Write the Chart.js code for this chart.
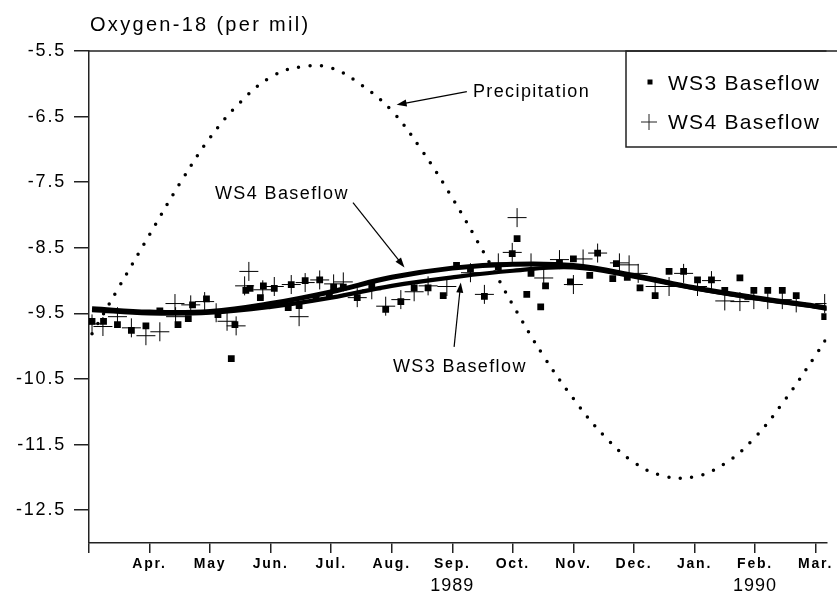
<!DOCTYPE html>
<html>
<head>
<meta charset="utf-8">
<script src="https://cdn.jsdelivr.net/npm/chart.js@4.4.0/dist/chart.umd.min.js"></script>
<style>
html, body { margin: 0; padding: 0; background: #fff; overflow: hidden; }
#wrap { width: 837px; height: 593px; position: relative; }
</style>
</head>
<body>
<div id="wrap"><canvas id="graph"></canvas></div>
<script>
// x values are months since 1 March 1989
const monthTicks = [0, 1, 2, 3, 4, 5, 6, 7, 8, 9, 10, 11, 12];
const monthLabels = ['', 'Apr.', 'May', 'Jun.', 'Jul.', 'Aug.', 'Sep.', 'Oct.', 'Nov.', 'Dec.', 'Jan.', 'Feb.', 'Mar.'];
const yearLabels = [{ month: 6, text: '1989' }, { month: 11, text: '1990' }];
const yTicks = [-12.5, -11.5, -10.5, -9.5, -8.5, -7.5, -6.5, -5.5];

// precipitation (dotted curve)
const precipMonths = [0.05, 0.5, 1, 1.5, 2, 2.5, 3, 3.5, 4, 4.5, 5, 5.5, 6, 6.5, 7, 7.5, 8, 8.5, 9, 9.5, 10, 10.5, 11, 11.5, 12, 12.2];
const precipValues = [-9.81, -9.09, -8.30, -7.52, -6.82, -6.28, -5.90, -5.74, -5.76, -6.02, -6.41, -7.02, -7.74, -8.54, -9.37, -10.14, -10.80, -11.36, -11.77, -11.98, -11.99, -11.79, -11.39, -10.81, -10.14, -9.85];

// fitted baseflow curves
const fitMonths = [0.05, 1, 2, 3, 4, 5, 6, 7, 8, 9, 10, 11, 12, 12.2];
const ws4Fit = [-9.43, -9.48, -9.47, -9.35, -9.17, -8.95, -8.81, -8.75, -8.77, -8.92, -9.11, -9.26, -9.39, -9.42];
const ws3Fit = [-9.45, -9.50, -9.49, -9.40, -9.26, -9.08, -8.95, -8.85, -8.80, -8.94, -9.12, -9.27, -9.40, -9.43];

// WS3 baseflow samples
const ws3Months = [0.05, 0.24, 0.47, 0.70, 0.94, 1.17, 1.47, 1.64, 1.71, 1.94, 2.13, 2.35, 2.41, 2.59, 2.66, 2.83, 2.88, 3.06, 3.29, 3.34, 3.47, 3.57, 3.75, 3.81, 3.97, 4.04, 4.20, 4.43, 4.67, 4.90, 5.15, 5.37, 5.60, 5.85, 6.07, 6.30, 6.53, 6.76, 6.99, 7.07, 7.23, 7.30, 7.46, 7.54, 7.77, 7.95, 8.00, 8.27, 8.40, 8.65, 8.71, 8.89, 9.10, 9.35, 9.58, 9.82, 10.05, 10.28, 10.50, 10.75, 10.98, 11.21, 11.45, 11.68, 12.15];
const ws3Values = [-9.62, -9.62, -9.67, -9.76, -9.69, -9.46, -9.67, -9.58, -9.37, -9.28, -9.52, -10.19, -9.67, -9.15, -9.12, -9.26, -9.08, -9.12, -9.41, -9.06, -9.38, -9.00, -9.26, -8.99, -9.21, -9.10, -9.10, -9.26, -9.06, -9.44, -9.32, -9.11, -9.11, -9.23, -8.77, -8.82, -9.24, -8.79, -8.59, -8.36, -9.21, -8.89, -9.40, -9.08, -8.73, -9.02, -8.67, -8.92, -8.58, -8.97, -8.74, -8.95, -9.11, -9.23, -8.86, -8.86, -8.99, -8.99, -9.15, -8.96, -9.15, -9.15, -9.15, -9.23, -9.55];

// WS4 baseflow samples
const ws4Months = [0.05, 0.23, 0.47, 0.70, 0.94, 1.17, 1.42, 1.43, 1.68, 1.91, 2.10, 2.28, 2.43, 2.57, 2.64, 2.87, 3.06, 3.34, 3.47, 3.57, 3.81, 4.04, 4.20, 4.43, 4.67, 4.90, 5.15, 5.37, 5.60, 5.91, 6.30, 6.53, 6.76, 6.99, 7.07, 7.30, 7.51, 7.77, 8.00, 8.16, 8.40, 8.76, 8.92, 9.07, 9.35, 9.58, 9.82, 10.05, 10.28, 10.50, 10.75, 10.98, 11.21, 11.45, 11.68, 12.15];
const ws4Values = [-9.66, -9.70, -9.55, -9.72, -9.84, -9.78, -9.35, -9.55, -9.37, -9.32, -9.49, -9.62, -9.69, -9.08, -8.86, -9.14, -9.09, -9.06, -9.55, -9.03, -8.99, -9.05, -9.02, -9.26, -9.14, -9.39, -9.29, -9.17, -9.08, -9.09, -8.88, -9.21, -8.73, -8.57, -8.04, -8.73, -8.96, -8.68, -9.06, -8.67, -8.58, -8.73, -8.76, -8.89, -9.09, -9.09, -8.89, -9.09, -9.00, -9.31, -9.32, -9.29, -9.29, -9.29, -9.34, -9.35];

// labels with arrows (x in months, y in per mil)
const notes = [
    { text: 'Precipitation', x: 6.34, y: -6.20, from: [6.24, -6.12], to: [5.08, -6.32] },
    { text: 'WS4 Baseflow', x: 2.08, y: -7.75, from: [4.36, -7.81], to: [5.21, -8.80] },
    { text: 'WS3 Baseflow', x: 5.02, y: -10.39, from: [6.03, -10.01], to: [6.14, -9.03] }
];

const FONT = '"Liberation Sans", Arial, Helvetica, sans-serif';
Chart.defaults.font.family = FONT;
Chart.defaults.color = '#000';

function pairs(xs, ys) {
    return xs.map((v, i) => ({ x: v, y: ys[i] }));
}

function arrow(ctx, x1, y1, x2, y2) {
    const ang = Math.atan2(y2 - y1, x2 - x1);
    const len = 10, half = 3.5;
    ctx.beginPath();
    ctx.moveTo(x1, y1);
    ctx.lineTo(x2 - Math.cos(ang) * len * 0.8, y2 - Math.sin(ang) * len * 0.8);
    ctx.stroke();
    ctx.beginPath();
    ctx.moveTo(x2, y2);
    ctx.lineTo(x2 - Math.cos(ang) * len - Math.sin(ang) * half, y2 - Math.sin(ang) * len + Math.cos(ang) * half);
    ctx.lineTo(x2 - Math.cos(ang) * len + Math.sin(ang) * half, y2 - Math.sin(ang) * len - Math.cos(ang) * half);
    ctx.closePath();
    ctx.fill();
}

const decor = {
    id: 'decor',
    beforeDraw(chart) {
        chart.ctx.letterSpacing = '1.8px';
    },
    afterDraw(chart) {
        const ctx = chart.ctx;
        const xs = chart.scales.x;
        const ys = chart.scales.y;
        const area = chart.chartArea;
        ctx.save();
        ctx.fillStyle = '#000';
        ctx.strokeStyle = '#222';

        // top frame
        ctx.lineWidth = 1.5;
        ctx.beginPath();
        ctx.moveTo(area.left, area.top);
        ctx.lineTo(area.right, area.top);
        ctx.stroke();

        // axis title
        ctx.letterSpacing = '2.3px';
        ctx.font = '20px ' + FONT;
        ctx.textAlign = 'left';
        ctx.textBaseline = 'alphabetic';
        ctx.fillText('Oxygen-18 (per mil)', area.left + 1, 31);

        // years under the month labels
        ctx.letterSpacing = '1px';
        ctx.font = '18px ' + FONT;
        ctx.textAlign = 'center';
        yearLabels.forEach(function (y) {
            ctx.fillText(y.text, xs.getPixelForValue(y.month), 591);
        });

        // notes with arrows
        ctx.textAlign = 'left';
        ctx.letterSpacing = '1.4px';
        ctx.font = '18px ' + FONT;
        ctx.lineWidth = 1.2;
        ctx.strokeStyle = '#000';
        notes.forEach(function (n) {
            ctx.fillText(n.text, xs.getPixelForValue(n.x), ys.getPixelForValue(n.y));
            arrow(ctx, xs.getPixelForValue(n.from[0]), ys.getPixelForValue(n.from[1]),
                xs.getPixelForValue(n.to[0]), ys.getPixelForValue(n.to[1]));
        });

        // legend box
        const lx = 626, lb = 147;
        ctx.lineWidth = 1.5;
        ctx.strokeStyle = '#222';
        ctx.beginPath();
        ctx.moveTo(chart.width + 2, area.top);
        ctx.lineTo(lx, area.top);
        ctx.lineTo(lx, lb);
        ctx.lineTo(chart.width + 2, lb);
        ctx.stroke();
        ctx.fillRect(647.5, 79.5, 5, 5);
        ctx.lineWidth = 1;
        ctx.beginPath();
        ctx.moveTo(641, 122);
        ctx.lineTo(657, 122);
        ctx.moveTo(649, 114);
        ctx.lineTo(649, 130);
        ctx.stroke();
        ctx.letterSpacing = '1.3px';
        ctx.font = '21px ' + FONT;
        ctx.fillText('WS3 Baseflow', 668, 90);
        ctx.fillText('WS4 Baseflow', 668, 129);
        ctx.restore();
    }
};

const ctx = document.getElementById('graph').getContext('2d');

const data = {
    datasets: [
        {
            label: 'WS3 Baseflow',
            data: pairs(ws3Months, ws3Values),
            pointStyle: 'rect',
            pointRadius: 4.8,
            backgroundColor: '#000',
            borderColor: '#000',
            borderWidth: 0
        },
        {
            label: 'WS4 Baseflow',
            data: pairs(ws4Months, ws4Values),
            pointStyle: 'cross',
            pointRadius: 9.5,
            borderColor: '#000',
            borderWidth: 1
        },
        {
            label: 'WS4 fit',
            data: pairs(fitMonths, ws4Fit),
            showLine: true,
            tension: 0.4,
            borderColor: '#000',
            borderWidth: 5,
            pointRadius: 0
        },
        {
            label: 'WS3 fit',
            data: pairs(fitMonths, ws3Fit),
            showLine: true,
            tension: 0.4,
            borderColor: '#000',
            borderWidth: 4.2,
            pointRadius: 0
        },
        {
            label: 'Precipitation',
            data: pairs(precipMonths, precipValues),
            showLine: true,
            tension: 0.4,
            borderColor: '#000',
            borderWidth: 3.5,
            borderDash: [0, 11.5],
            borderCapStyle: 'round',
            pointRadius: 0
        }
    ]
};

const config = {
    type: 'scatter',
    data: data,
    options: {
        responsive: true,
        maintainAspectRatio: false,
        animation: false,
        devicePixelRatio: 1,
        layout: { padding: { top: 51, right: 0, bottom: 0, left: 0 } },
        plugins: {
            legend: { display: false },
            tooltip: { enabled: false }
        },
        scales: {
            x: {
                type: 'linear',
                min: 0,
                max: 12.18,
                afterBuildTicks: function (s) { s.ticks = monthTicks.map(v => ({ value: v })); },
                afterFit: function (s) { s.height = 50; s.paddingLeft = 0; s.paddingRight = 0; },
                grid: { drawOnChartArea: false, tickLength: 10, color: '#222', lineWidth: 1.5 },
                border: { color: '#222', width: 1.5 },
                ticks: {
                    autoSkip: false,
                    maxRotation: 0,
                    padding: 3,
                    color: '#000',
                    font: { size: 14, weight: 'bold' },
                    callback: function (v, i) { return monthLabels[i]; }
                }
            },
            y: {
                type: 'linear',
                min: -13,
                max: -5.5,
                afterBuildTicks: function (s) { s.ticks = yTicks.map(v => ({ value: v })); },
                afterFit: function (s) { s.width = 89; s.paddingTop = 0; s.paddingBottom = 0; },
                grid: { drawOnChartArea: false, tickLength: 15, color: '#222', lineWidth: 1.5 },
                border: { color: '#222', width: 1.5 },
                ticks: {
                    padding: 8,
                    color: '#000',
                    font: { size: 18 },
                    callback: function (v) { return v.toFixed(1); }
                }
            }
        }
    },
    plugins: [decor]
};

let graph = new Chart(ctx, config);
</script>
</body>
</html>
